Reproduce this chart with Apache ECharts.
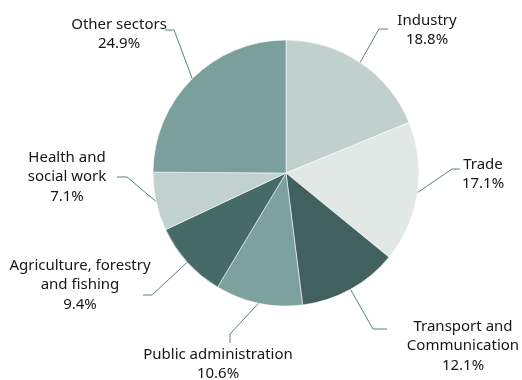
<!DOCTYPE html>
<html>
<head>
<meta charset="utf-8">
<script src="https://cdn.jsdelivr.net/npm/echarts@6/dist/echarts.min.js"></script>
<style>
  html, body { margin: 0; padding: 0; background: #fff; }
  #chart { width: 522px; height: 380px; }
</style>
</head>
<body>
<div id="chart"></div>
<script>
// Employment share by sector (%), clockwise from 12 o'clock
const sectors = [
  'Industry',
  'Trade',
  'Transport and\nCommunication',
  'Public administration',
  'Agriculture, forestry\nand fishing',
  'Health and\nsocial work',
  'Other sectors'
];
const shares = [18.8, 17.1, 12.1, 10.6, 9.4, 7.1, 24.9];
const sliceColors = ['#bfd0cd', '#e1e8e6', '#40615e', '#7da19e', '#466a67', '#c1d1ce', '#7b9f9c'];

// Label placement: block centre plus the leader-line elbow and end
const labelSpots = [
  { x: 427, y: 30,  elbow: [379, 29],  end: [388, 29] },
  { x: 483, y: 174, elbow: [452, 169], end: [460, 169] },
  { x: 463, y: 346, elbow: [373, 329], end: [387, 329] },
  { x: 218, y: 364, elbow: [230, 334], end: [230, 343] },
  { x: 80,  y: 285, elbow: [152, 295], end: [143, 295] },
  { x: 67,  y: 177, elbow: [127, 177], end: [117, 177] },
  { x: 119, y: 34,  elbow: [174, 30],  end: [165, 30] }
];

const chart = echarts.init(document.getElementById('chart'), null, { renderer: 'canvas' });
chart.setOption({
  animation: false,
  backgroundColor: '#ffffff',
  series: [{
    type: 'pie',
    center: [286, 173],
    radius: 133,
    startAngle: 90,
    clockwise: true,
    avoidLabelOverlap: false,
    itemStyle: { borderColor: 'rgba(255,255,255,0.7)', borderWidth: 0.8 },
    label: {
      show: true,
      position: 'outside',
      formatter: p => p.name + '\n' + p.value.toFixed(1) + '%',
      fontFamily: 'Noto Sans',
      fontSize: 15,
      lineHeight: 19.5,
      color: '#161616',
      align: 'center'
    },
    labelLine: {
      show: true,
      lineStyle: { color: '#5b827f', width: 1 }
    },
    labelLayout: params => {
      const s = labelSpots[params.dataIndex];
      const start = params.labelLinePoints ? params.labelLinePoints[0] : s.elbow;
      return {
        x: s.x,
        y: s.y,
        align: 'center',
        verticalAlign: 'middle',
        labelLinePoints: [start, s.elbow, s.end]
      };
    },
    data: sectors.map((name, i) => ({
      name: name,
      value: shares[i],
      itemStyle: { color: sliceColors[i] }
    }))
  }]
});
</script>
</body>
</html>
